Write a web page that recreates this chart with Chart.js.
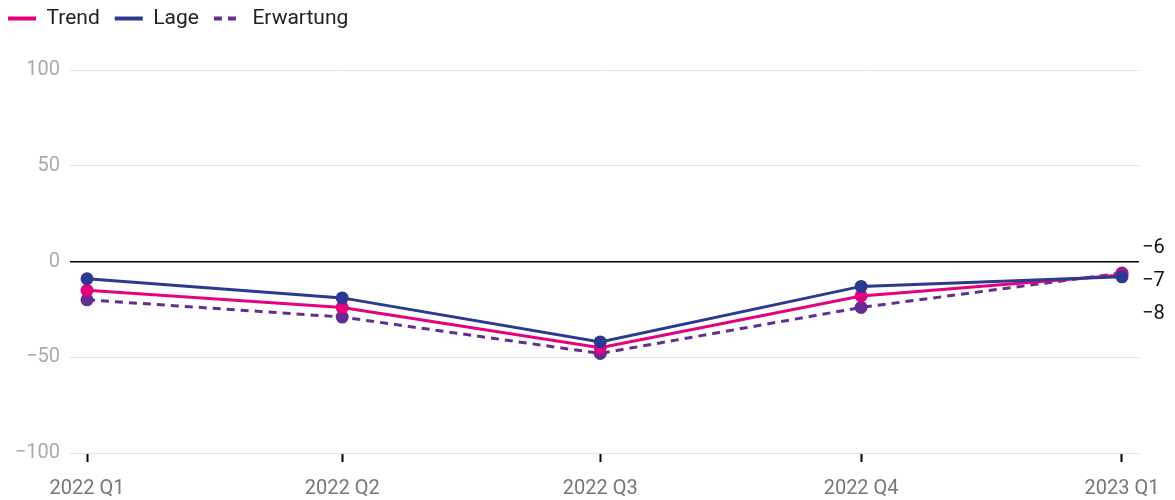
<!DOCTYPE html>
<html lang="de">
<head>
<meta charset="UTF-8" />
<title>Trend / Lage / Erwartung</title>
<script src="https://cdn.jsdelivr.net/npm/chart.js"></script>
<style>
  html, body { margin: 0; padding: 0; background: #fff; }
  #wrap { width: 1175px; height: 500px; }
</style>
</head>
<body>
<div id="wrap"><canvas id="chart"></canvas></div>
<script>
// quarters (start dates, so the spacing follows the calendar)
const quarterStarts = ['2022-01-01', '2022-04-01', '2022-07-01', '2022-10-01', '2023-01-01'];
const quarterLabels = ['2022 Q1', '2022 Q2', '2022 Q3', '2022 Q4', '2023 Q1'];

const trend = [-15, -24, -45, -18, -7];
const lage = [-9, -19, -42, -13, -8];
const erwartung = [-20, -29, -48, -24, -6];

const yTicks = [-100, -50, 0, 50, 100];

const day0 = Date.parse(quarterStarts[0]);
const dayOffsets = quarterStarts.map(d => Math.round((Date.parse(d) - day0) / 86400000));
const toPoints = arr => arr.map((v, i) => ({ x: dayOffsets[i], y: v }));
const minus = v => String(v).replace('-', '\u2212');

Chart.defaults.font.family = 'Roboto, "Noto Sans", sans-serif';

// last-value labels on the right, pushed apart so they don't overlap
const endLabels = {
    id: 'endLabels',
    afterDatasetsDraw(chart) {
        const { ctx, chartArea } = chart;
        const items = chart.data.datasets.map((ds, i) => {
            const meta = chart.getDatasetMeta(i);
            const pt = meta.data[meta.data.length - 1];
            return { y: pt.y, text: minus(ds.data[ds.data.length - 1].y) };
        }).sort((a, b) => a.y - b.y);
        const gap = 33;
        const mean = items.reduce((s, it) => s + it.y, 0) / items.length;
        const pos = items.map(it => it.y);
        for (let i = 1; i < pos.length; i++) {
            if (pos[i] < pos[i - 1] + gap) pos[i] = pos[i - 1] + gap;
        }
        const shift = mean - pos.reduce((s, v) => s + v, 0) / pos.length;
        ctx.save();
        ctx.font = '20px Roboto, sans-serif';
        ctx.fillStyle = '#111';
        ctx.textAlign = 'left';
        ctx.textBaseline = 'middle';
        items.forEach((it, i) => ctx.fillText(it.text, chartArea.right + 3, pos[i] + shift + 6));
        ctx.restore();
    }
};

// extra room under the legend
const legendSpace = {
    id: 'legendSpace',
    afterInit(chart) {
        const fit = chart.legend.fit;
        chart.legend.fit = function () {
            fit.call(this);
            this.height += 31;
        };
    }
};

const defaultLabels = Chart.defaults.plugins.legend.labels.generateLabels;

new Chart(document.getElementById('chart'), {
    type: 'line',
    data: {
        datasets: [
            { label: 'Trend', data: toPoints(trend), borderColor: '#e6007e', backgroundColor: '#e6007e', order: 1 },
            { label: 'Lage', data: toPoints(lage), borderColor: '#2b3990', backgroundColor: '#2b3990', order: 0 },
            { label: 'Erwartung', data: toPoints(erwartung), borderColor: '#662d91', backgroundColor: '#662d91', borderDash: [8, 6], order: 2 }
        ]
    },
    options: {
        responsive: true,
        maintainAspectRatio: false,
        animation: false,
        events: [],
        layout: { padding: { left: -7, right: 35, top: -7, bottom: 0 } },
        elements: {
            line: { borderWidth: 3, tension: 0 },
            point: { radius: 6.5, borderWidth: 0 }
        },
        scales: {
            x: {
                type: 'linear',
                min: -6,
                max: 371,
                border: { display: false },
                grid: { drawOnChartArea: false, drawTicks: true, tickLength: 9, tickColor: '#000', tickWidth: 2 },
                afterBuildTicks: axis => { axis.ticks = dayOffsets.map(v => ({ value: v })); },
                afterFit: axis => { axis.height = 47; },
                ticks: {
                    color: '#777',
                    font: { size: 20 },
                    padding: 15,
                    maxRotation: 0,
                    autoSkip: false,
                    callback: (v, i) => quarterLabels[i]
                }
            },
            y: {
                min: -100,
                max: 100,
                border: { display: false },
                afterFit: axis => { axis.width = 77; },
                afterBuildTicks: axis => { axis.ticks = yTicks.map(v => ({ value: v })); },
                grid: {
                    drawTicks: false,
                    color: c => c.tick && c.tick.value === 0 ? '#000' : '#e3e3e3',
                    lineWidth: c => c.tick && c.tick.value === 0 ? 1.5 : 1
                },
                ticks: {
                    color: '#aaa',
                    font: { size: 20 },
                    padding: 10,
                    callback: v => minus(v)
                }
            }
        },
        plugins: {
            tooltip: { enabled: false },
            legend: {
                position: 'top',
                align: 'start',
                labels: {
                    usePointStyle: true,
                    pointStyle: 'line',
                    pointStyleWidth: 28,
                    boxHeight: 21,
                    padding: 15,
                    color: '#222',
                    font: { size: 21 },
                    sort: (a, b) => a.datasetIndex - b.datasetIndex,
                    generateLabels: chart => defaultLabels(chart).map(item => {
                        const ds = chart.data.datasets[item.datasetIndex];
                        item.lineWidth = 4;
                        item.strokeStyle = ds.borderColor;
                        item.lineDash = ds.borderDash || [];
                        return item;
                    })
                }
            }
        }
    },
    plugins: [endLabels, legendSpace]
});
</script>
</body>
</html>
